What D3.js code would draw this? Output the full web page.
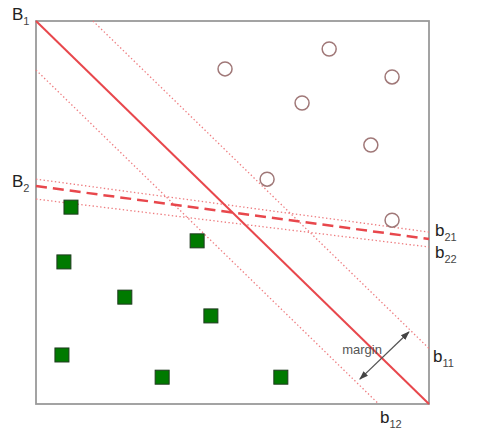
<!DOCTYPE html>
<html><head><meta charset="utf-8">
<script src="https://cdn.jsdelivr.net/npm/d3@7"></script>
<style>body{margin:0;background:#fff}svg{display:block}</style>
</head><body>
<svg id="c" width="489" height="447"></svg>
<script>
// Data (domain 0..100 on both axes)
const circlesX = [48.1, 74.6, 90.6, 67.7, 85.2, 58.8, 90.6];
const circlesY = [87.5, 92.7, 85.4, 78.6, 67.6, 58.7, 48.0];
const squaresX = [8.9, 41.0, 7.1, 22.6, 44.5, 6.6, 32.1, 62.3];
const squaresY = [51.4, 42.6, 37.1, 27.9, 23.0, 12.8, 7.0, 7.0];
// boundary lines: [x0, y0, x1, y1]
const lineB1  = [0, 100, 100, 0];
const lineB11 = [14.5, 100, 100, 14.5];
const lineB12 = [0, 87.2, 87.2, 0];
const lineB2  = [0, 56.9, 100, 43.1];
const lineB21 = [0, 58.7, 100, 44.9];
const lineB22 = [0, 53.5, 100, 41.0];
const marginArrow = [82.4, 6.5, 94.9, 18.8];

const svg = d3.select("#c");
const x = d3.scaleLinear().domain([0,100]).range([36,429]);
const y = d3.scaleLinear().domain([0,100]).range([404,21]);

const defs = svg.append("defs");
defs.append("marker").attr("id","ah").attr("viewBox","0 0 10 10").attr("refX",9).attr("refY",5)
  .attr("markerWidth",7).attr("markerHeight",7).attr("orient","auto-start-reverse")
  .append("path").attr("d","M0,1.5 L10,5 L0,8.5 Z").attr("fill","#444");

// frame
svg.append("rect").attr("x",x(0)).attr("y",y(100)).attr("width",x(100)-x(0)).attr("height",y(0)-y(100))
  .attr("fill","none").attr("stroke","#9a9a9a").attr("stroke-width",1.8);

function seg(l){ return svg.append("line").attr("x1",x(l[0])).attr("y1",y(l[1])).attr("x2",x(l[2])).attr("y2",y(l[3])); }

[lineB11, lineB12, lineB21, lineB22].forEach(l=>{
  seg(l).attr("stroke","#ee7d80").attr("stroke-width",1.3).attr("stroke-dasharray","1.4,2.4");
});
seg(lineB1).attr("stroke","#e8474c").attr("stroke-width",2);
seg(lineB2).attr("stroke","#e8474c").attr("stroke-width",2.5).attr("stroke-dasharray","11,6");

// circles
svg.selectAll("circle.o").data(d3.range(circlesX.length)).join("circle")
  .attr("cx",i=>x(circlesX[i])).attr("cy",i=>y(circlesY[i])).attr("r",7)
  .attr("fill","#fff").attr("stroke","#a07878").attr("stroke-width",1.5);

// squares
const s = 14;
svg.selectAll("rect.sq").data(d3.range(squaresX.length)).join("rect")
  .attr("x",i=>x(squaresX[i])-s/2).attr("y",i=>y(squaresY[i])-s/2).attr("width",s).attr("height",s)
  .attr("fill","#007a00").attr("stroke","#1f3a1f").attr("stroke-width",1);

// margin arrow
seg(marginArrow).attr("stroke","#555").attr("stroke-width",1.3)
  .attr("marker-start","url(#ah)").attr("marker-end","url(#ah)");
svg.append("text").attr("x",362).attr("y",354).attr("text-anchor","middle")
  .attr("font-family","Liberation Sans, Arial, sans-serif").attr("font-size",13).attr("fill","#555").text("margin");

// labels
function lab(px,py,main,sub,fs){
  const t = svg.append("text").attr("x",px).attr("y",py).attr("font-family","Liberation Sans, Arial, sans-serif")
    .attr("font-size",fs).attr("fill","#222");
  t.append("tspan").text(main);
  t.append("tspan").attr("font-size",fs*0.65).attr("dy",fs*0.3).attr("fill","#444").text(sub);
}
lab(12,20,"B","1",17);
lab(12,187,"B","2",17);
lab(435,236,"b","21",17);
lab(435,258,"b","22",17);
lab(433,362,"b","11",17);
lab(380,423,"b","12",17);
</script>
</body></html>
